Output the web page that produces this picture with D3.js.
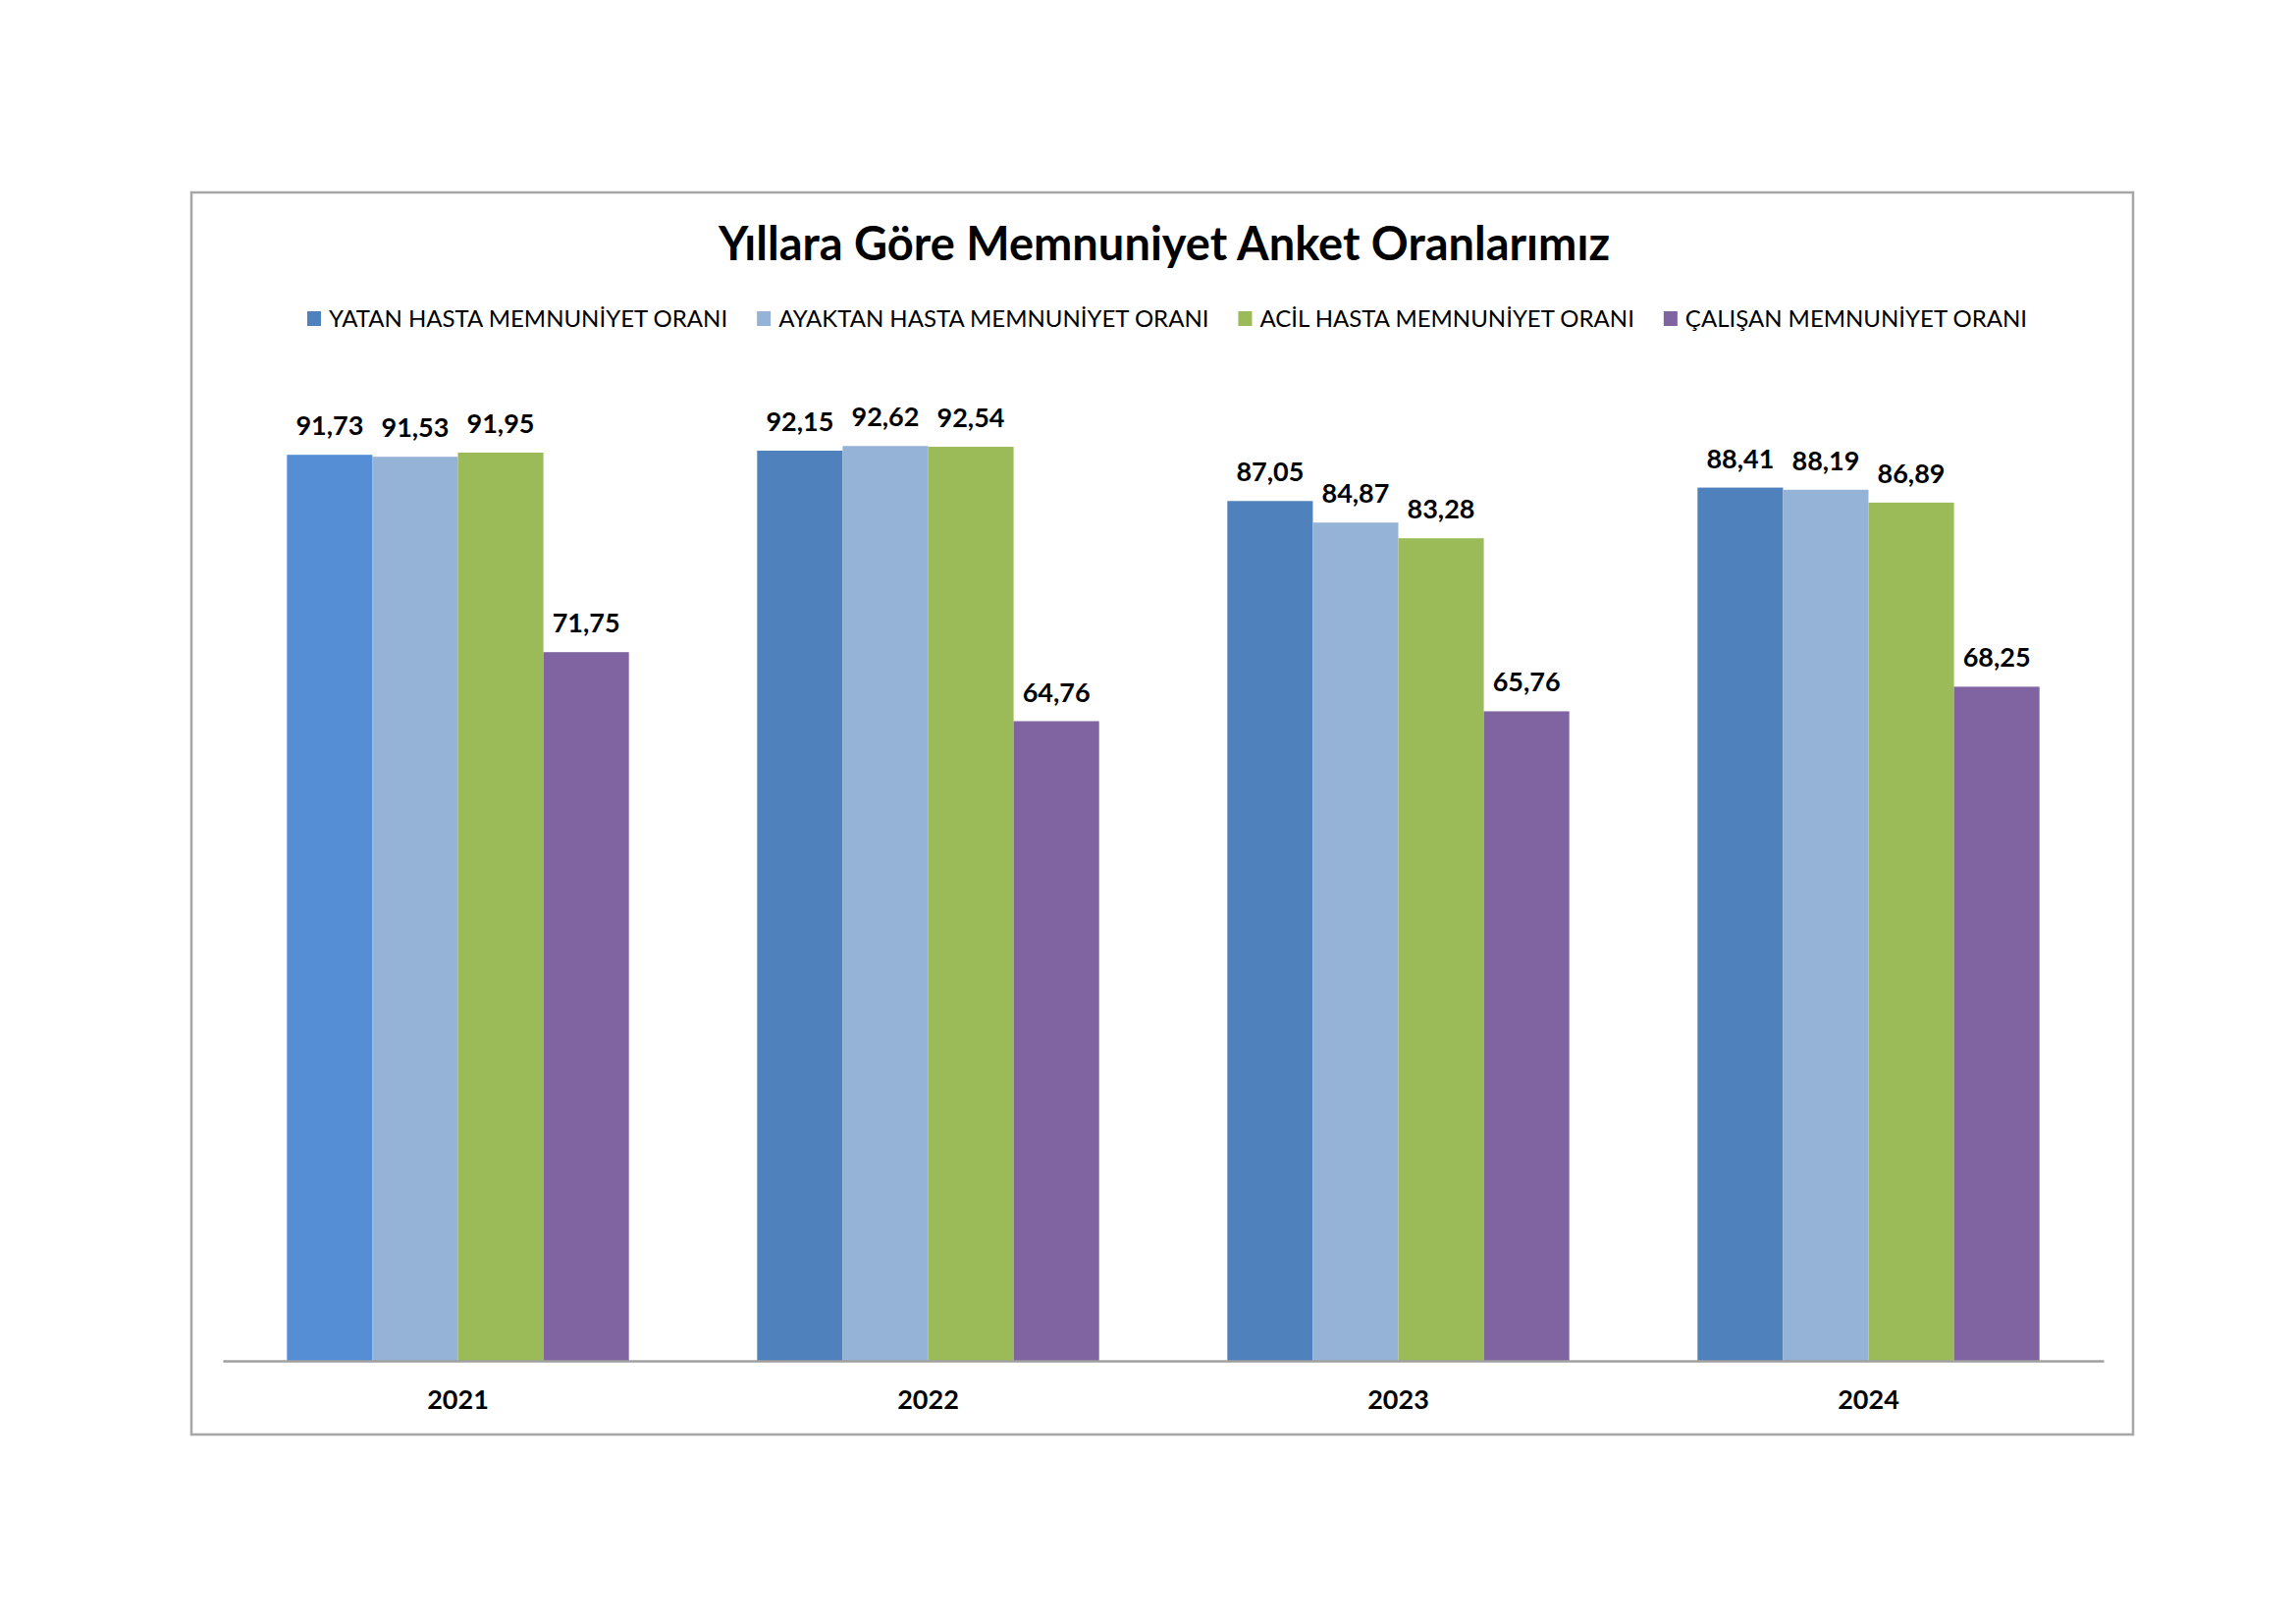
<!DOCTYPE html>
<html>
<head>
<meta charset="utf-8">
<script src="https://cdn.jsdelivr.net/npm/d3@7"></script>
<style>
  body { margin: 0; background: #fff; }
  text { font-family: Lato, "Open Sans", sans-serif; }
</style>
</head>
<body>
<svg id="chart" width="2339" height="1654"></svg>
<script>
// chart data
var years = ['2021', '2022', '2023', '2024'];
var seriesNames = ['YATAN HASTA MEMNUNİYET ORANI', 'AYAKTAN HASTA MEMNUNİYET ORANI', 'ACİL HASTA MEMNUNİYET ORANI', 'ÇALIŞAN MEMNUNİYET ORANI'];
var yatan = [91.73, 92.15, 87.05, 88.41];
var ayaktan = [91.53, 92.62, 84.87, 88.19];
var acil = [91.95, 92.54, 83.28, 86.89];
var calisan = [71.75, 64.76, 65.76, 68.25];
var seriesValues = [yatan, ayaktan, acil, calisan];
var seriesColors = ['#4F81BD', '#95B3D7', '#9BBB59', '#8064A2'];

var svg = d3.select('#chart');

// outer frame
svg.append('rect')
  .attr('x', 195).attr('y', 196)
  .attr('width', 1978).attr('height', 1265)
  .attr('fill', '#fff')
  .attr('stroke', '#a6a6a6')
  .attr('stroke-width', 2.5);

// title
svg.append('text')
  .attr('x', 1186).attr('y', 265)
  .attr('text-anchor', 'middle')
  .attr('font-size', 47)
  .attr('font-weight', 'bold')
  .attr('fill', '#000')
  .text('Yıllara Göre Memnuniyet Anket Oranlarımız');

// legend
var legend = svg.append('g');
var lx = 0;
seriesNames.forEach(function (name, i) {
  var item = legend.append('g').attr('transform', 'translate(' + lx + ',0)');
  item.append('rect')
    .attr('x', 0).attr('y', -16)
    .attr('width', 14).attr('height', 15)
    .attr('fill', seriesColors[i]);
  var t = item.append('text')
    .attr('x', 22).attr('y', 0)
    .attr('font-size', 24)
    .attr('fill', '#000')
    .text(name);
  lx += 22 + t.node().getComputedTextLength() + 30;
});
lx -= 30;
legend.attr('transform', 'translate(' + (1189 - lx / 2) + ',333)');

// scales
var x0 = d3.scaleBand()
  .domain(years)
  .range([227, 2143]);

var x1 = d3.scaleBand()
  .domain(d3.range(seriesNames.length))
  .range([0, x0.bandwidth()])
  .paddingOuter(0.75);

var y = d3.scaleLinear()
  .domain([0, 100])
  .range([1386, 380]);

var fmt = function (v) { return v.toFixed(2).replace('.', ','); };

// bars
var groups = svg.selectAll('g.year')
  .data(years)
  .enter()
  .append('g')
  .classed('year', true)
  .attr('transform', d => 'translate(' + x0(d) + ',0)');

groups.selectAll('rect')
  .data((d, yi) => seriesValues.map((vals, si) => ({ s: si, yi: yi, v: vals[yi] })))
  .enter()
  .append('rect')
  .attr('x', d => x1(d.s))
  .attr('y', d => y(d.v))
  .attr('width', x1.bandwidth())
  .attr('height', d => y(0) - y(d.v))
  .attr('fill', d => (d.s === 0 && d.yi === 0) ? '#558ED5' : seriesColors[d.s]);

// value labels
groups.selectAll('text.lbl')
  .data((d, yi) => seriesValues.map((vals, si) => ({ s: si, v: vals[yi] })))
  .enter()
  .append('text')
  .classed('lbl', true)
  .attr('x', d => x1(d.s) + x1.bandwidth() / 2)
  .attr('y', d => y(d.v) - 20)
  .attr('text-anchor', 'middle')
  .attr('font-size', 27)
  .attr('font-weight', 'bold')
  .attr('fill', '#000')
  .text(d => fmt(d.v));

// x axis
var xAxis = svg.append('g')
  .attr('transform', 'translate(0,' + y(0) + ')')
  .call(d3.axisBottom(x0).tickSize(0).tickPadding(30));
xAxis.select('.domain')
  .attr('stroke', '#a0a0a0')
  .attr('stroke-width', 2.5);
xAxis.selectAll('text')
  .attr('font-family', 'Lato, sans-serif')
  .attr('font-size', 27)
  .attr('font-weight', 'bold')
  .attr('fill', '#000');
</script>
</body>
</html>
